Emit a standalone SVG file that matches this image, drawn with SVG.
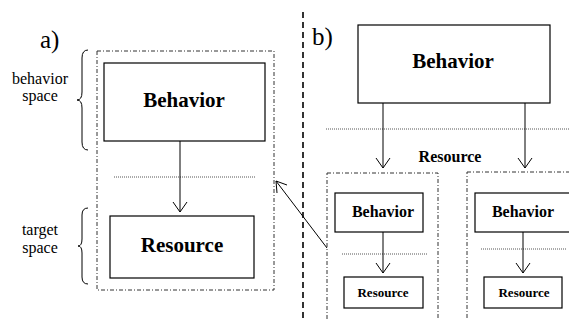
<svg xmlns="http://www.w3.org/2000/svg" width="569" height="320" viewBox="0 0 569 320">
  <style>
    .box { fill: #fff; stroke: #000; stroke-width: 1.2; }
    .frame { fill: none; stroke: #333; stroke-width: 1; stroke-dasharray: 4 2 1 2; }
    .sep { fill: none; stroke: #555; stroke-width: 1; stroke-dasharray: 1 1; }
    .link { fill: none; stroke: #000; stroke-width: 1; }
    .head { fill: none; stroke: #000; stroke-width: 1; }
    .brace { fill: none; stroke: #000; stroke-width: 1; }
    .divider { fill: none; stroke: #000; stroke-width: 1.6; stroke-dasharray: 6 4; }
    text { font-family: "Times New Roman", Times, "Liberation Serif", Tinos, "Noto Serif", serif; fill: #000; }
    .lbl { font-weight: bold; text-anchor: middle; }
    .note { font-size: 16px; text-anchor: middle; }
    .tag { font-size: 25px; }
  </style>

  <!-- panel divider -->
  <line class="divider" x1="303" y1="12" x2="303" y2="320"/>

  <!-- panel labels -->
  <text class="tag" x="40" y="48">a)</text>
  <text class="tag" x="312" y="45">b)</text>

  <!-- braces with space names -->
  <g id="behavior-space">
    <path class="brace" d="M88,50 Q82,50 82,58 L82,92 Q82,100 77,100 Q82,100 82,108 L82,142 Q82,150 88,150"/>
    <text class="note" x="40" y="84">behavior</text>
    <text class="note" x="40" y="101">space</text>
  </g>
  <g id="target-space">
    <path class="brace" d="M88,208 Q82,208 82,215 L82,239 Q82,246 78,246 Q82,246 82,253 L82,277 Q82,284 88,284"/>
    <text class="note" x="40" y="235">target</text>
    <text class="note" x="40" y="253">space</text>
  </g>

  <!-- a) single behavior acting on a resource -->
  <g id="a-frame">
    <rect class="frame" x="97" y="51" width="177" height="239"/>
    <line class="sep" x1="114" y1="177" x2="256" y2="177"/>
  </g>
  <g id="a-behavior">
    <rect class="box" x="104" y="63" width="161" height="78"/>
    <text class="lbl" x="184" y="107" font-size="21">Behavior</text>
  </g>
  <g id="a-resource">
    <rect class="box" x="110" y="216" width="144" height="62"/>
    <text class="lbl" x="182" y="252" font-size="21">Resource</text>
  </g>

  <!-- b) behavior acting on nested behaviors as resources -->
  <g id="b-behavior">
    <rect class="box" x="358" y="25" width="192" height="78"/>
    <text class="lbl" x="453" y="68" font-size="21">Behavior</text>
  </g>
  <line class="sep" x1="326" y1="129" x2="569" y2="129"/>
  <text class="lbl" x="450" y="162" font-size="16">Resource</text>

  <g id="b-sub1">
    <rect class="frame" x="327" y="173" width="111" height="160"/>
    <line class="sep" x1="342" y1="254" x2="427" y2="254"/>
    <g id="b-sub1-behavior">
      <rect class="box" x="335" y="193" width="88" height="39"/>
      <text class="lbl" x="383" y="217" font-size="16">Behavior</text>
    </g>
    <g id="b-sub1-resource">
      <rect class="box" x="344" y="277" width="79" height="31"/>
      <text class="lbl" x="383" y="297" font-size="13">Resource</text>
    </g>
  </g>

  <g id="b-sub2">
    <rect class="frame" x="467" y="172" width="120" height="160"/>
    <line class="sep" x1="481" y1="249" x2="566" y2="249"/>
    <g id="b-sub2-behavior">
      <rect class="box" x="475" y="193" width="100" height="39"/>
      <text class="lbl" x="523" y="217" font-size="16">Behavior</text>
    </g>
    <g id="b-sub2-resource">
      <rect class="box" x="484" y="277" width="78" height="31"/>
      <text class="lbl" x="524" y="297" font-size="13">Resource</text>
    </g>
  </g>

  <!-- connectors -->
  <g id="connectors">
    <line class="link" x1="180" y1="141" x2="180" y2="212"/>
    <path class="head" d="M173,202 L180,212 L187,202"/>

    <line class="link" x1="383" y1="103" x2="383" y2="168"/>
    <path class="head" d="M376,158 L383,168 L390,158"/>
    <line class="link" x1="525" y1="103" x2="525" y2="168"/>
    <path class="head" d="M518,158 L525,168 L532,158"/>

    <line class="link" x1="383" y1="232" x2="383" y2="273"/>
    <path class="head" d="M376,263 L383,273 L390,263"/>
    <line class="link" x1="523" y1="232" x2="523" y2="273"/>
    <path class="head" d="M516,263 L523,273 L530,263"/>

    <line class="link" x1="327" y1="248" x2="276" y2="181"/>
    <path class="head" d="M277,193 L276,181 L287,185"/>
  </g>
</svg>
